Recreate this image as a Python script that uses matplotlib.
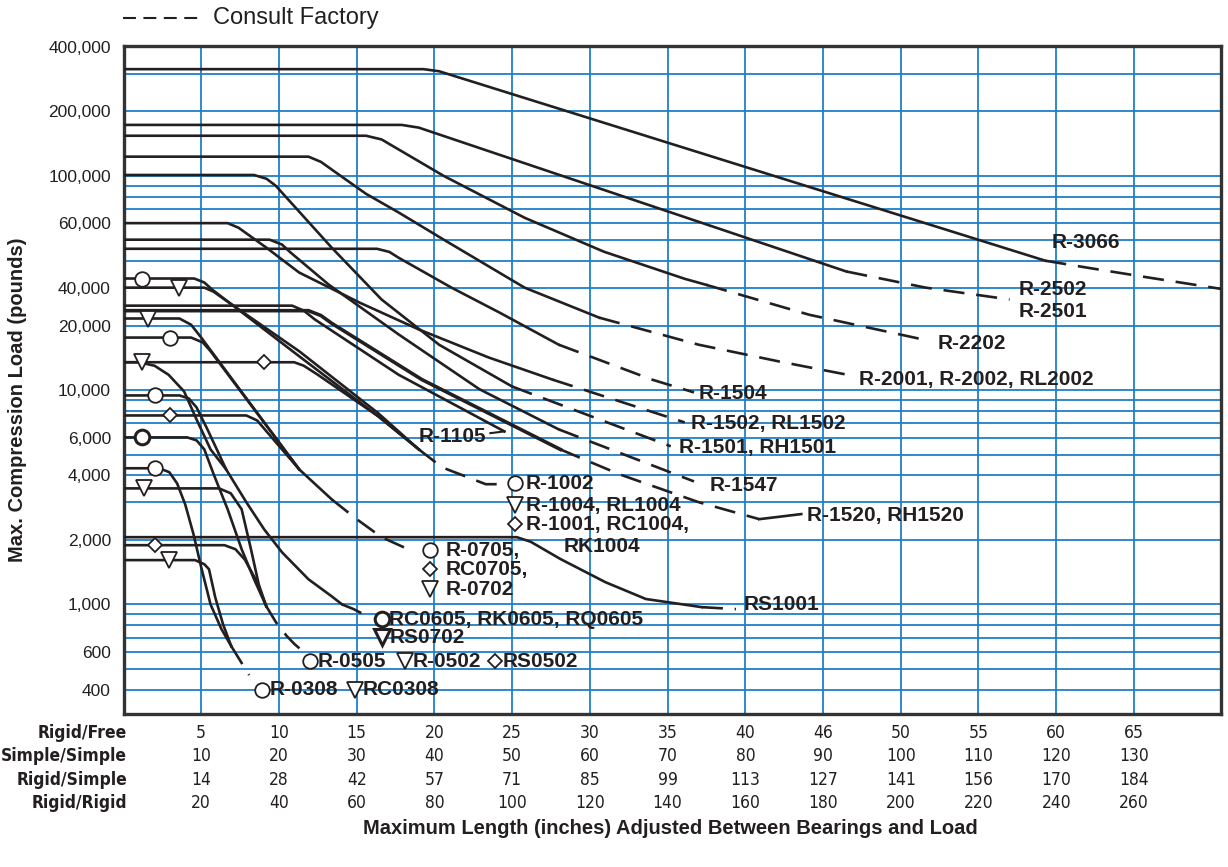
import matplotlib
matplotlib.use("Agg")
import matplotlib.pyplot as plt
from matplotlib import font_manager
from matplotlib.font_manager import FontProperties
from matplotlib.transforms import blended_transform_factory

# ---- axis data ----
Y_TICKS = [400000, 200000, 100000, 60000, 30000, 20000, 10000, 6000, 4000, 2000, 1000, 600, 400]
Y_TICK_LABELS = ["400,000", "200,000", "100,000", "60,000", "40,000", "20,000", "10,000",
                 "6,000", "4,000", "2,000", "1,000", "600", "400"]
Y_GRID = [300000, 200000, 100000, 90000, 80000, 70000, 60000, 50000, 40000, 30000, 20000,
          10000, 9000, 8000, 7000, 6000, 5000, 4000, 3000, 2000,
          1000, 900, 800, 700, 600, 500, 400]
X_GRID = [5, 10, 15, 20, 25, 30, 35, 40, 45, 50, 55, 60, 65]

ROW_NAMES = ["Rigid/Free", "Simple/Simple", "Rigid/Simple", "Rigid/Rigid"]
RIGID_FREE = ["5", "10", "15", "20", "25", "30", "35", "40", "46", "50", "55", "60", "65"]
SIMPLE_SIMPLE = ["10", "20", "30", "40", "50", "60", "70", "80", "90", "100", "110", "120", "130"]
RIGID_SIMPLE = ["14", "28", "42", "57", "71", "85", "99", "113", "127", "141", "156", "170", "184"]
RIGID_RIGID = ["20", "40", "60", "80", "100", "120", "140", "160", "180", "200", "220", "240", "260"]

# ---- curves: (length in, load lb); *_cf = "consult factory" dashed part ----
r3066 = [(0, 315000), (19.3, 315000), (20.3, 308000), (59.3, 40200)]
r3066_cf = [(59.3, 40200), (62, 37300), (66, 33500), (70.6, 29700)]
r2502 = [(0, 173000), (17.9, 173000), (19.0, 168000), (46.5, 35800)]
r2502_cf = [(46.5, 35800), (51.6, 30100), (57.0, 26500)]
r2202 = [(0, 154000), (15.6, 154000), (16.6, 148000), (20.6, 100000), (25.8, 63800),
         (30.9, 44300), (36.1, 33100), (37.5, 31000)]
r2202_cf = [(37.5, 31000), (44.1, 22500), (51.5, 17200)]
r2001 = [(0, 123000), (11.9, 123000), (12.7, 116300), (13.6, 104500), (15.6, 82500),
         (17.7, 67500), (20.6, 50400), (25.8, 30100), (30.6, 21800)]
r2001_cf = [(30.6, 21800), (37.0, 16300), (42.2, 13600), (47.1, 11600)]
r1504 = [(0, 45700), (16.3, 45700), (17.1, 44200), (17.7, 41500), (21.1, 30100),
         (24.2, 23000), (28.0, 16300)]
r1504_cf = [(28.0, 16300), (34.0, 11200), (36.7, 9760)]
r1502 = [(0, 60200), (6.7, 60200), (7.4, 57300), (9.2, 46200), (11.3, 35400),
         (15.2, 25600), (19.0, 19200), (23.5, 14200), (27.6, 11200)]
r1502_cf = [(27.6, 11200), (36.1, 7070)]
r1501 = [(0, 101000), (8.4, 101000), (9.2, 97000), (9.8, 89900), (13.4, 46200),
         (16.6, 26500), (20.3, 16300), (25.0, 10400)]
r1501_cf = [(25.0, 10400), (35.2, 5470)]
r1547 = [(0, 50400), (9.4, 50400), (10.2, 47800), (10.7, 44200), (13.2, 31100),
         (17.7, 18200), (22.9, 10100), (28.0, 6560)]
r1547_cf = [(28.0, 6560), (36.7, 3750)]
r1105 = [(0, 24800), (10.85, 24800), (11.6, 23500), (12.3, 21400), (17.7, 11800), (24.5, 6420)]
r1520 = [(0, 23500), (11.9, 23500), (12.7, 22300), (13.4, 20500), (19.2, 11200), (28.1, 5290)]
r1520_cf = [(28.1, 5290), (31.9, 4050), (37.0, 3000), (40.9, 2500)]

r1002 = [(0, 33200), (4.55, 33200), (5.2, 31800), (5.7, 29500), (11.3, 14400),
         (16.4, 7540), (19.0, 5290)]
r1004 = [(0, 30100), (5.2, 30100), (5.8, 28800), (6.5, 26500), (11.3, 15200),
         (16.4, 7790), (19.0, 5290)]
r1001 = [(0, 13500), (10.98, 13500), (11.6, 13000), (12.5, 11800), (16.4, 7540), (19.0, 5290)]
r1001_cf = [(19.0, 5290), (20.5, 4360), (23.3, 3640), (24.4, 3640)]
r0702 = [(0, 21600), (3.6, 21600), (4.35, 20200), (5.0, 17600), (11.3, 4270), (13.4, 3090)]
r0705 = [(0, 17600), (4.35, 17600), (5.1, 16700), (5.6, 15200), (11.3, 4270)]
rc0705 = [(0, 7620), (7.9, 7620), (8.6, 7220), (9.2, 6420), (11.3, 4270)]
rc0705_cf = [(13.4, 3090), (15.0, 2500), (16.6, 2060), (18.6, 1770)]
rs0702 = [(0, 13500), (1.0, 13500), (2.0, 13000), (2.9, 11800), (3.9, 9860), (4.7, 7300),
          (5.6, 5290), (6.6, 4270), (7.9, 3000), (9.05, 2240), (10.2, 1750), (11.9, 1310),
          (13.4, 1090), (14.06, 1000)]
rc0605 = [(0, 9450), (3.6, 9450), (4.2, 9150), (4.7, 8310), (5.4, 6560), (6.15, 5020), (6.6, 4270)]
rc0605_cf = [(14.06, 1000), (14.8, 951), (15.8, 873)]
r0505 = [(0, 6020), (4.1, 6020), (4.7, 5830), (5.2, 5290), (5.8, 4050), (6.7, 2780),
         (7.6, 1810), (8.4, 1310), (9.18, 982)]
r0502 = [(0, 3480), (6.15, 3480), (6.9, 3300), (7.6, 2780), (8.2, 1810), (8.7, 1240), (9.18, 982)]
rs0502 = [(0, 1890), (6.5, 1890), (7.2, 1810), (7.8, 1620), (8.5, 1310), (9.18, 982)]
rs0502_cf = [(9.18, 982), (9.8, 827), (10.5, 712), (11.0, 653), (11.6, 599)]
r0308 = [(0, 4320), (2.3, 4320), (2.95, 4140), (3.45, 3670), (3.97, 2930), (4.5, 2130),
         (5.0, 1490), (5.6, 1000), (6.3, 767), (6.93, 639)]
rc0308 = [(0, 1610), (4.6, 1610), (5.2, 1540), (5.5, 1460), (5.9, 1080), (6.4, 809), (6.93, 639)]
rc0308_cf = [(6.93, 639), (8.08, 468)]
rs1001 = [(0, 2060), (25.3, 2060), (26.2, 1960), (28.1, 1630), (31.0, 1270), (33.6, 1060),
          (37.2, 971)]
rs1001_cf = [(37.2, 971), (39.4, 951)]

SOLID = [r3066, r2502, r2202, r2001, r1504, r1502, r1501, r1547, r1105,
         r1002, r1004, r1001, r0702, r0705, rc0705, rs0702, rc0605,
         r0505, r0502, rs0502, r0308, rc0308, rs1001]
THICK = [r1520]
DASHED = [r3066_cf, r2502_cf, r2202_cf, r2001_cf, r1504_cf, r1502_cf, r1501_cf, r1547_cf,
          r1520_cf, r1001_cf, rc0705_cf, rc0605_cf, rs0502_cf, rc0308_cf, rs1001_cf]


def has_font(name):
    try:
        font_manager.findfont(FontProperties(family=name), fallback_to_default=False)
        return True
    except Exception:
        return False


plt.rcParams["font.family"] = ["Liberation Sans", "DejaVu Sans"]
if has_font("Liberation Sans Narrow"):
    narrow = dict(family=["Liberation Sans Narrow", "DejaVu Sans"], fontsize=14)
else:
    narrow = dict(family=["DejaVu Sans"], fontstretch="condensed", fontsize=12.5)

INK = "#231f20"
BLUE = "#1f7fc8"

fig = plt.figure(figsize=(12.28, 8.67), dpi=100)
ax = fig.add_axes([123.5 / 1228, 1 - 714 / 867, (1221 - 123.5) / 1228, (714 - 46) / 867])
ax.set_yscale("log")
ax.set_xlim(0, 70.6)
ax.set_ylim(308, 404000)

for v in Y_GRID:
    ax.axhline(v, color=BLUE, lw=1.3, zorder=1)
for v in X_GRID:
    ax.axvline(v, color=BLUE, lw=1.3, zorder=1)

ax.set_yticks(Y_TICKS, Y_TICK_LABELS)
ax.yaxis.set_minor_locator(matplotlib.ticker.NullLocator())
ax.set_xticks([])
ax.tick_params(axis="y", length=0, pad=9, labelsize=12.5, colors="#231f20")
for s in ax.spines.values():
    s.set_linewidth(2.4)
    s.set_color("#333333")

for c in SOLID:
    ax.plot([p[0] for p in c], [p[1] for p in c], color=INK, lw=1.9, zorder=3,
            solid_joinstyle="round")
for c in THICK:
    ax.plot([p[0] for p in c], [p[1] for p in c], color=INK, lw=2.6, zorder=3,
            solid_joinstyle="round")
for c in DASHED:
    ax.plot([p[0] for p in c], [p[1] for p in c], color=INK, lw=1.9, zorder=3,
            linestyle=(0, (8, 4.5)))


def mark(x, y, m, bold=False):
    size = {"o": 10.5, "v": 11, "D": 7.5}[m]
    ax.plot(x, y, marker=m, ms=size, mfc="white", mec=INK, mew=2.2 if bold else 1.3,
            zorder=5, clip_on=False)


# markers on the curves
mark(1.2, 33200, "o"); mark(3.6, 30100, "v"); mark(9.05, 13500, "D")
mark(1.6, 21600, "v"); mark(3.0, 17600, "o"); mark(3.0, 7620, "D")
mark(1.2, 13500, "v"); mark(2.0, 9450, "o")
mark(1.2, 6020, "o", bold=True); mark(1.3, 3480, "v"); mark(2.0, 1890, "D")
mark(2.0, 4320, "o"); mark(2.9, 1610, "v")

lab = dict(fontsize=15, fontweight="bold", color=INK, va="center", zorder=6)
ax.text(59.7, 48800, "R-3066", **lab)
ax.text(57.6, 29500, "R-2502", **lab)
ax.text(57.6, 23300, "R-2501", **lab)
ax.text(52.4, 16500, "R-2202", **lab)
ax.text(47.3, 11200, "R-2001, R-2002, RL2002", **lab)
ax.text(37.0, 9650, "R-1504", **lab)
ax.text(36.5, 7000, "R-1502, RL1502", **lab)
ax.text(35.75, 5410, "R-1501, RH1501", **lab)
ax.text(19.0, 6090, "R-1105", **lab)
ax.plot([23.6, 24.5], [6300, 6420], color=INK, lw=1.5, zorder=3)
ax.text(37.7, 3600, "R-1547", **lab)
ax.plot([40.9, 43.6], [2500, 2640], color=INK, lw=1.9, zorder=3)
ax.text(44.0, 2610, "R-1520, RH1520", **lab)
ax.text(39.9, 1000, "RS1001", **lab)

mark(25.2, 3680, "o"); ax.text(25.9, 3680, "R-1002", **lab)
mark(25.2, 2900, "v"); ax.text(25.9, 2900, "R-1004, RL1004", **lab)
mark(25.2, 2370, "D"); ax.text(25.9, 2370, "R-1001, RC1004,", **lab)
ax.text(28.3, 1870, "RK1004", **lab)

mark(19.7, 1790, "o"); ax.text(20.7, 1790, "R-0705,", **lab)
mark(19.7, 1460, "D"); ax.text(20.7, 1460, "RC0705,", **lab)
mark(19.7, 1180, "v"); ax.text(20.7, 1180, "R-0702", **lab)

mark(16.6, 854, "o", bold=True); ax.text(17.1, 854, "RC0605, RK0605, RQ0605", **lab)
mark(16.6, 704, "v", bold=True); ax.text(17.1, 704, "RS0702", **lab)

mark(12.0, 544, "o"); ax.text(12.5, 544, "R-0505", **lab)
mark(18.1, 544, "v"); ax.text(18.6, 544, "R-0502", **lab)
mark(23.9, 544, "D"); ax.text(24.4, 544, "RS0502", **lab)

mark(8.9, 399, "o"); ax.text(9.4, 399, "R-0308", **lab)
mark(14.9, 399, "v"); ax.text(15.4, 399, "RC0308", **lab)

# length table under the axis
trans = blended_transform_factory(ax.transData, fig.transFigure)
rows = [RIGID_FREE, SIMPLE_SIMPLE, RIGID_SIMPLE, RIGID_RIGID]
row_y = [733, 756, 780, 803]
for name, vals, py in zip(ROW_NAMES, rows, row_y):
    yf = 1 - py / 867
    fig.text(127 / 1228, yf, name, ha="right", va="center", fontweight="bold", color=INK, **narrow)
    for xv, t in zip(X_GRID, vals):
        ax.text(xv, yf, t, transform=trans, ha="center", va="center", color=INK, **narrow)

fig.text(670 / 1228, 1 - 829 / 867, "Maximum Length (inches) Adjusted Between Bearings and Load",
         ha="center", va="center", fontsize=14.5, fontweight="bold", color=INK)
fig.text(18 / 1228, 1 - 400 / 867, "Max. Compression Load (pounds)", rotation=90,
         ha="center", va="center", fontsize=14.5, fontweight="bold", color=INK)

# "consult factory" key: four dashes
fig.lines.append(plt.Line2D([123 / 1228, 199 / 1228], [1 - 18 / 867, 1 - 18 / 867],
                            transform=fig.transFigure, color=INK, lw=1.5,
                            linestyle=(0, (6.2, 3.6))))
fig.text(213 / 1228, 1 - 18 / 867, "Consult Factory", ha="left", va="center",
         fontsize=17, color=INK)

fig.savefig("out.png", dpi=100)
